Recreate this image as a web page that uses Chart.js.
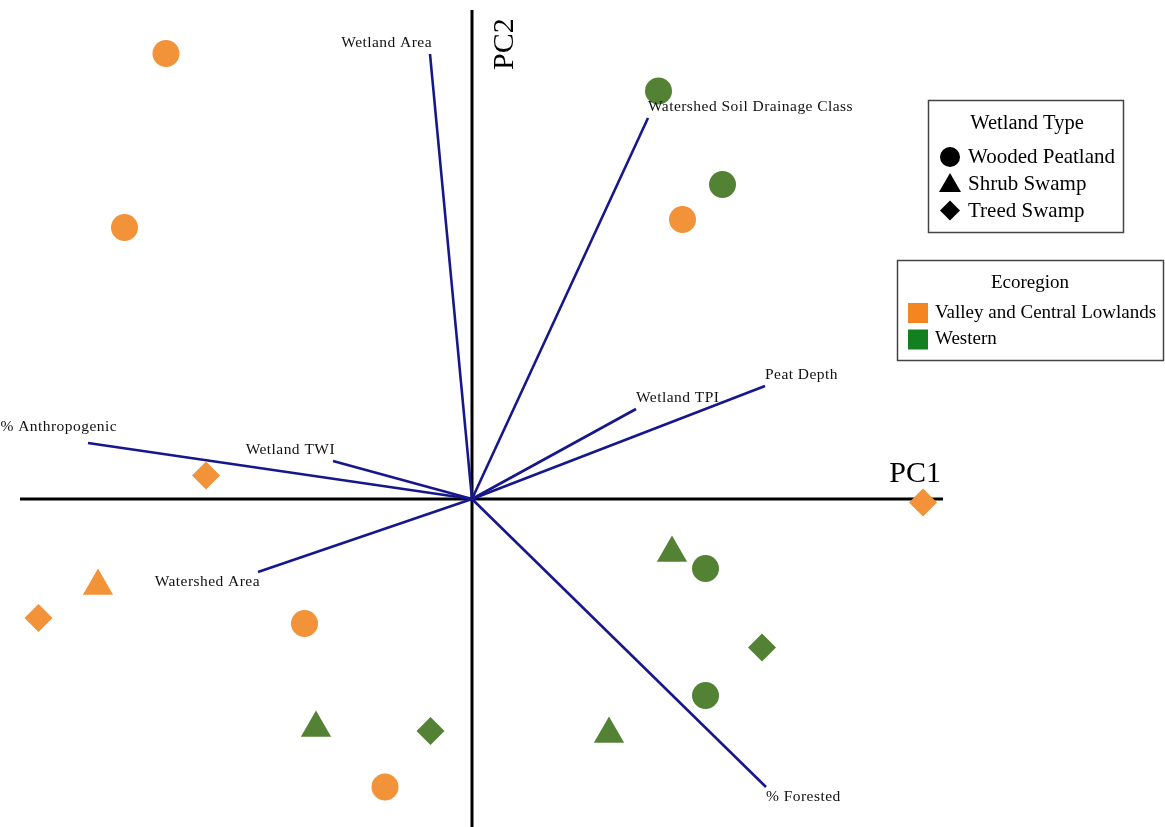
<!DOCTYPE html>
<html>
<head>
<meta charset="utf-8">
<script src="https://cdn.jsdelivr.net/npm/chart.js@4/dist/chart.umd.min.js"></script>
<style>
  html, body { margin: 0; padding: 0; background: #ffffff; }
  #wrap { width: 1165px; height: 827px; position: relative; }
  canvas { display: block; }
</style>
</head>
<body>
<div id="wrap"><canvas id="c" width="1165" height="827"></canvas></div>
<script>
// ---------- DATA (PC scores) ----------
const xRange = [-4.72, 6.93];
const yRange = [-3.28, 4.99];
const axisPC1 = [-4.52, 4.71];
const axisPC2 = [-3.28, 4.89];
const axisTitles = ['PC1', 'PC2'];

const vectorNames = ['Wetland Area', 'Watershed Soil Drainage Class', 'Peat Depth', 'Wetland TPI',
                     '% Anthropogenic', 'Wetland TWI', 'Watershed Area', '% Forested'];
const vectorX = [-0.42, 1.76, 2.93, 1.64, -3.84, -1.39, -2.14, 2.94];
const vectorY = [ 4.45, 3.81, 1.13, 0.90,  0.56,  0.38, -0.73, -2.88];

// Valley and Central Lowlands (orange)
const vclPeatlandX = [-3.06, -3.475, 2.105, -1.675, -0.87];
const vclPeatlandY = [ 4.455, 2.715, 2.795, -1.245, -2.88];
const vclShrubX = [-3.74];
const vclShrubY = [-0.87];
const vclTreedX = [-2.66, -4.335, 4.51];
const vclTreedY = [ 0.235, -1.19, -0.035];
// Western (green)
const wPeatlandX = [1.865, 2.505, 2.335, 2.335];
const wPeatlandY = [4.08, 3.145, -0.695, -1.965];
const wShrubX = [2.00, 1.37, -1.56];
const wShrubY = [-0.54, -2.35, -2.29];
const wTreedX = [2.90, -0.415];
const wTreedY = [-1.485, -2.32];

const wetlandTypeTitle = 'Wetland Type';
const wetlandTypes = ['Wooded Peatland', 'Shrub Swamp', 'Treed Swamp'];
const ecoregionTitle = 'Ecoregion';
const ecoregions = ['Valley and Central Lowlands', 'Western'];

// ---------- STYLE ----------
const ORANGE = '#F29239';
const GREEN = '#548235';
const VEC = '#17178C';
const SERIF = '"Liberation Serif", "Times New Roman", serif';
const typeStyles = ['circle', 'triangle', 'rectRot'];
const typeRadius = [13.5, 17.5, 14];
const ecoColors = [ORANGE, GREEN];
const ecoLegendColors = ['#F5851F', '#12801F'];

const zip = (xs, ys) => xs.map((x, i) => ({ x: x, y: ys[i] }));

const datasets = [];
// axes
datasets.push({ data: [{ x: axisPC1[0], y: 0 }, { x: axisPC1[1], y: 0 }], showLine: true, borderColor: '#000', borderWidth: 3, pointRadius: 0, order: 10 });
datasets.push({ data: [{ x: 0, y: axisPC2[0] }, { x: 0, y: axisPC2[1] }], showLine: true, borderColor: '#000', borderWidth: 3, pointRadius: 0, order: 10 });
// loading vectors
vectorNames.forEach((n, i) => {
  datasets.push({ data: [{ x: 0, y: 0 }, { x: vectorX[i], y: vectorY[i] }], showLine: true, borderColor: VEC, borderWidth: 2.6, pointRadius: 0, order: 9 });
});
// scores
const groups = [
  [vclPeatlandX, vclPeatlandY, 0, 0], [vclShrubX, vclShrubY, 1, 0], [vclTreedX, vclTreedY, 2, 0],
  [wPeatlandX, wPeatlandY, 0, 1], [wShrubX, wShrubY, 1, 1], [wTreedX, wTreedY, 2, 1]
];
groups.forEach(g => {
  datasets.push({
    data: zip(g[0], g[1]), showLine: false,
    pointStyle: typeStyles[g[2]], pointRadius: typeRadius[g[2]], pointHoverRadius: typeRadius[g[2]],
    backgroundColor: ecoColors[g[3]], borderColor: ecoColors[g[3]], borderWidth: 0, order: 1
  });
});

const overlayPlugin = {
  id: 'overlay',
  afterDraw(chart) {
    const ctx = chart.ctx;
    const xs = chart.scales.x, ys = chart.scales.y;
    ctx.save();
    // vector labels
    ctx.fillStyle = '#111';
    ctx.font = '15.5px ' + SERIF;
    ctx.letterSpacing = '0.45px';
    ctx.textBaseline = 'middle';
    vectorNames.forEach((n, i) => {
      const px = xs.getPixelForValue(vectorX[i]);
      const py = ys.getPixelForValue(vectorY[i]);
      let dx = vectorX[i] < 0 ? 2 : 0;
      let dy = vectorY[i] < 0 ? 10 : -11;
      ctx.textAlign = vectorX[i] < 0 ? 'right' : 'left';
      if (n === '% Anthropogenic') { dx = 29; dy = -16; }
      ctx.fillText(n, px + dx, py + dy);
    });
    ctx.letterSpacing = '0px';
    // axis titles
    ctx.font = '30px ' + SERIF;
    ctx.fillStyle = '#000';
    ctx.textAlign = 'right';
    ctx.textBaseline = 'alphabetic';
    ctx.fillText(axisTitles[0], xs.getPixelForValue(axisPC1[1]) - 2, ys.getPixelForValue(0) - 17);
    ctx.save();
    ctx.translate(xs.getPixelForValue(0) + 41, ys.getPixelForValue(axisPC2[1]) + 60);
    ctx.rotate(-Math.PI / 2);
    ctx.textAlign = 'left';
    ctx.fillText(axisTitles[1], 0, 0);
    ctx.restore();

    // legend 1: wetland type
    ctx.lineWidth = 1.5;
    ctx.strokeStyle = '#444';
    ctx.fillStyle = '#fff';
    ctx.fillRect(928, 100, 195, 132);
    ctx.strokeRect(928.5, 100.5, 195, 132);
    ctx.fillStyle = '#000';
    ctx.font = '20.5px ' + SERIF;
    ctx.textAlign = 'center';
    ctx.textBaseline = 'middle';
    ctx.fillText(wetlandTypeTitle, 1027, 124);
    ctx.textAlign = 'left';
    ctx.font = '21px ' + SERIF;
    const legR = [10, 12.7, 10];
    const legY = [157, 185.7, 210.5];
    wetlandTypes.forEach((t, i) => {
      ctx.fillStyle = '#000';
      ctx.strokeStyle = '#000';
      Chart.helpers.drawPoint(ctx, { pointStyle: typeStyles[i], radius: legR[i], borderWidth: 0 }, 950, legY[i]);
      ctx.fillText(t, 968, [157, 184, 211][i]);
    });
    // legend 2: ecoregion
    ctx.strokeStyle = '#444';
    ctx.fillStyle = '#fff';
    ctx.fillRect(897, 260, 266, 100);
    ctx.strokeRect(897.5, 260.5, 266, 100);
    ctx.fillStyle = '#000';
    ctx.textAlign = 'center';
    ctx.font = '19px ' + SERIF;
    ctx.fillText(ecoregionTitle, 1030, 283);
    ctx.textAlign = 'left';
    ecoregions.forEach((e, i) => {
      const cy = 313 + i * 26.5;
      ctx.fillStyle = ecoLegendColors[i];
      ctx.fillRect(908, cy - 10, 20, 20);
      ctx.fillStyle = '#000';
      ctx.fillText(e, 935, cy);
    });
    ctx.restore();
  }
};

new Chart(document.getElementById('c'), {
  type: 'scatter',
  data: { datasets: datasets },
  options: {
    responsive: false,
    devicePixelRatio: 1,
    animation: false,
    layout: { padding: 0, autoPadding: false },
    plugins: { legend: { display: false }, tooltip: { enabled: false }, title: { display: false } },
    scales: {
      x: { type: 'linear', min: xRange[0], max: xRange[1], display: false },
      y: { type: 'linear', min: yRange[0], max: yRange[1], display: false }
    },
    elements: { line: { tension: 0 } }
  },
  plugins: [overlayPlugin]
});
</script>
</body>
</html>
